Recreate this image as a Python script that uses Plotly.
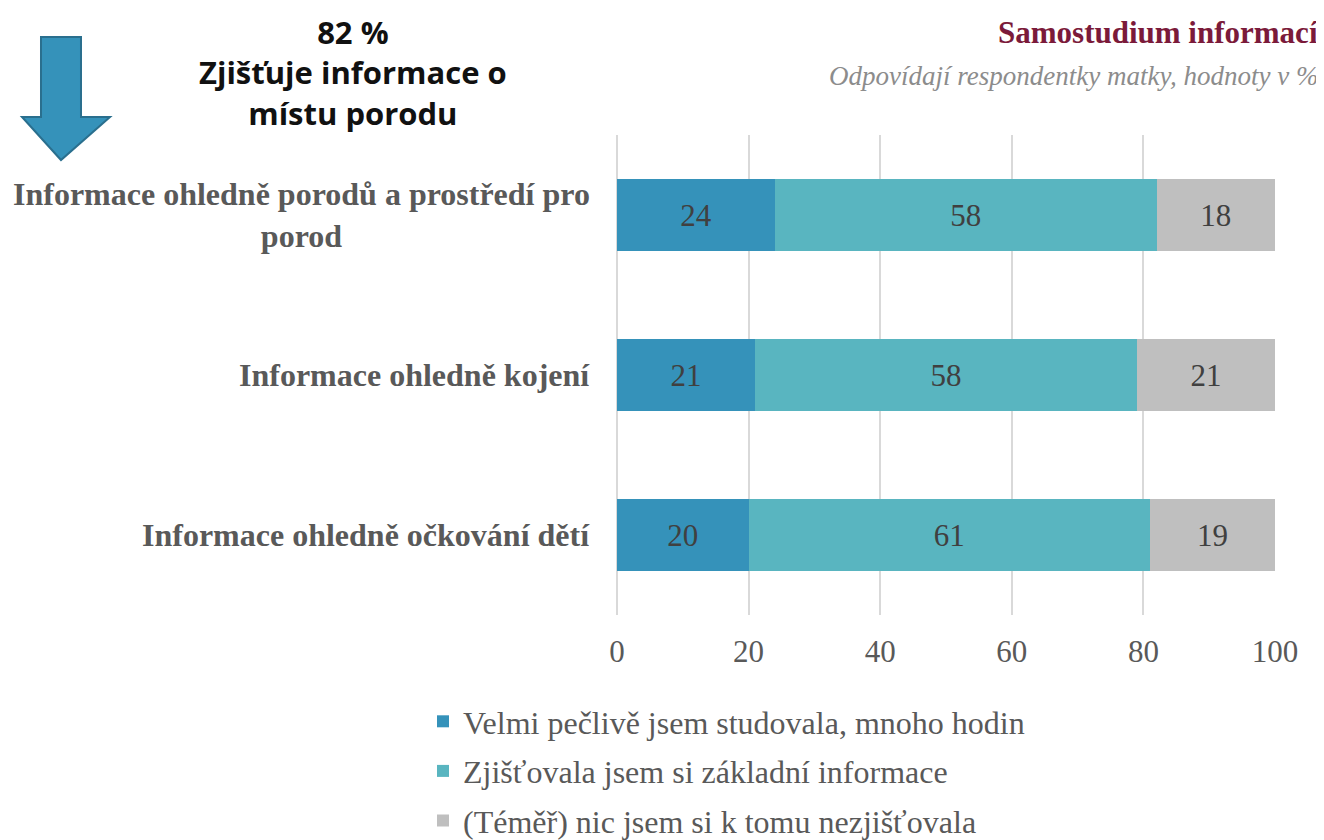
import plotly.graph_objects as go

categories = ["Informace ohledně porodů a prostředí pro porod",
              "Informace ohledně kojení",
              "Informace ohledně očkování dětí"]
category_labels = ["Informace ohledně porodů a prostředí pro<br>porod",
                   "Informace ohledně kojení",
                   "Informace ohledně očkování dětí"]
series_names = ["Velmi pečlivě jsem studovala, mnoho hodin",
                "Zjišťovala jsem si základní informace",
                "(Téměř) nic jsem si k tomu nezjišťovala"]
velmi = [24, 21, 20]
zakladni = [58, 58, 61]
nic = [18, 21, 19]
colors = ["#3592BA", "#59B5C0", "#BFBFBF"]
x_ticks = [0, 20, 40, 60, 80, 100]

# page body has an 8px margin; figure occupies screen (8,8)-(1324,840)
OFF = 8
W, H = 1324 - OFF, 840 - OFF
ML, MR, MT, MB = 617 - OFF, 49, 135 - OFF, 225
PW, PH = W - ML - MR, H - MT - MB


def px(sx):
    """screen x -> paper x"""
    return (sx - OFF - ML) / PW


def py(sy):
    """screen y -> paper y"""
    return (H - MB - (sy - OFF)) / PH


serif = "Liberation Serif, Times New Roman, serif"
fig = go.Figure()
for name, vals, col in zip(series_names, [velmi, zakladni, nic], colors):
    fig.add_trace(go.Bar(
        y=categories, x=vals, name=name, orientation="h",
        marker=dict(color=col, line=dict(width=0)),
        text=[str(v) for v in vals], textposition="inside",
        insidetextanchor="middle",
        textfont=dict(family=serif, size=31, color="#404040"),
        width=0.45, legendgroup=name,
    ))

for cat, lab in zip(categories, category_labels):
    fig.add_annotation(
        x=px(592), xref="paper", y=cat, yref="y", text=lab, showarrow=False,
        xanchor="right", yanchor="middle", align="center",
        font=dict(family=serif, size=32, color="#595959", weight="bold"))

fig.update_layout(
    width=W, height=H,
    barmode="stack",
    plot_bgcolor="white", paper_bgcolor="white",
    margin=dict(l=ML, r=MR, t=MT, b=MB, autoexpand=False),
    xaxis=dict(range=[0, 100], tickvals=x_ticks, showgrid=True,
               gridcolor="#D9D9D9", gridwidth=2, zeroline=True,
               zerolinecolor="#D9D9D9", zerolinewidth=2,
               tickfont=dict(family=serif, size=31, color="#595959"),
               ticklabelstandoff=15, showline=False),
    yaxis=dict(categoryorder="array", categoryarray=categories[::-1],
               showticklabels=False, showgrid=False, zeroline=False),
    showlegend=True,
    legend=dict(orientation="v", x=px(423), xanchor="left", y=py(694), yanchor="top",
                font=dict(family=serif, size=32, color="#595959"),
                traceorder="grouped", tracegroupgap=5,
                itemwidth=30, bgcolor="rgba(0,0,0,0)"),
)

# Title and subtitle
fig.add_annotation(x=px(1320), xref="paper", xanchor="right", y=py(13), yref="paper",
                   yanchor="top", text="<b>Samostudium informací</b>", showarrow=False,
                   font=dict(family=serif, size=31, color="#7B1A3A"))
fig.add_annotation(x=px(1320), xref="paper", xanchor="right", y=py(59), yref="paper",
                   yanchor="top", text="<i>Odpovídají respondentky matky, hodnoty v %</i>",
                   showarrow=False, font=dict(family=serif, size=27, color="#8C8C8C"))
# Callout text
fig.add_annotation(x=px(353), xref="paper", xanchor="center", y=py(9), yref="paper",
                   yanchor="top", text="<b>82 %<br>Zjišťuje informace o<br>místu porodu</b>",
                   showarrow=False, align="center",
                   font=dict(family="Open Sans, Noto Sans, sans-serif", size=31, color="#111111"))

arrow_pts = [(41, 37), (81, 37), (81, 117), (110, 117), (61, 160), (22, 117), (41, 117)]
path = "M " + " L ".join(f"{px(a):.5f},{py(b):.5f}" for a, b in arrow_pts) + " Z"
fig.add_shape(type="path", path=path, xref="paper", yref="paper",
              fillcolor="#3592BA", line=dict(color="#2A6F8E", width=2))

fig.write_html("out.html")
